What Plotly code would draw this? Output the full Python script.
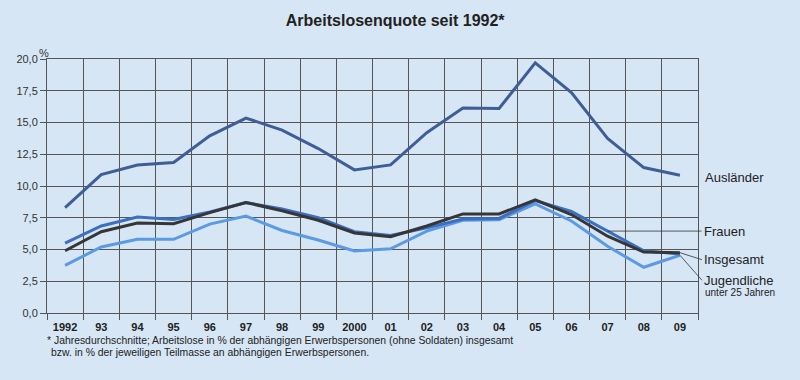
import plotly.graph_objects as go

years = ["1992", "93", "94", "95", "96", "97", "98", "99", "2000", "01",
         "02", "03", "04", "05", "06", "07", "08", "09"]

auslaender = [8.3, 10.9, 11.65, 11.85, 13.95, 15.35, 14.4, 12.95, 11.27, 11.66,
              14.2, 16.15, 16.1, 19.7, 17.36, 13.75, 11.45, 10.84]
frauen = [5.5, 6.85, 7.55, 7.37, 7.95, 8.7, 8.2, 7.5, 6.4, 6.1,
          6.7, 7.4, 7.45, 8.85, 8.0, 6.45, 4.9, 4.65]
insgesamt = [4.9, 6.4, 7.08, 7.03, 7.9, 8.7, 8.05, 7.3, 6.3, 6.0,
             6.85, 7.8, 7.8, 8.9, 7.75, 6.05, 4.8, 4.75]
jugendliche = [3.75, 5.2, 5.8, 5.8, 7.0, 7.63, 6.5, 5.75, 4.88, 5.05,
               6.45, 7.3, 7.35, 8.6, 7.25, 5.25, 3.6, 4.55]

series = [
    ("Jugendliche", jugendliche, "#5c9be3"),
    ("Frauen", frauen, "#3d6fc0"),
    ("Insgesamt", insgesamt, "#363636"),
    ("Ausländer", auslaender, "#3f5e96"),
]

BG = "#d6e6f5"
GRID = "#555555"
FONT = "Liberation Sans, Arial, sans-serif"

fig = go.Figure()
for name, vals, col in series:
    fig.add_trace(go.Scatter(x=years, y=vals, mode="lines", name=name,
                             line=dict(color=col, width=3), hoverinfo="skip"))

fig.update_layout(
    width=800, height=380, autosize=False,
    paper_bgcolor=BG, plot_bgcolor=BG,
    margin=dict(l=47, r=102, t=59, b=67),
    showlegend=False,
    separators=",.",
    font=dict(family=FONT, color="#222222"),
    title=dict(text="Arbeitslosenquote seit 1992*", xref="container", yref="container",
               x=0.494, xanchor="center", y=1 - 20 / 380, yanchor="middle",
               font=dict(size=16, weight="bold", color="#222222", family=FONT)),
)

fig.update_xaxes(type="category", categoryorder="array", categoryarray=years,
                 range=[-0.5, len(years) - 0.5], tickson="boundaries",
                 showgrid=True, gridcolor=GRID, gridwidth=1,
                 ticks="outside", ticklen=6, tickcolor=GRID, tickwidth=1,
                 showline=True, linecolor=GRID, linewidth=1, mirror=True,
                 zeroline=False, ticklabelstandoff=4,
                 tickfont=dict(size=11, weight="bold", color="#222222", family=FONT))
fig.update_yaxes(range=[0, 20], tick0=0, dtick=2.5, tickformat=".1f",
                 showgrid=True, gridcolor=GRID, gridwidth=1,
                 ticks="outside", ticklen=6, tickcolor=GRID, tickwidth=1,
                 showline=True, linecolor=GRID, linewidth=1, mirror=True,
                 zeroline=False,
                 tickfont=dict(size=11, color="#333333", family=FONT))

last = len(years) - 1
lab_font = dict(size=13, color="#222222", family=FONT)

# percent sign
fig.add_annotation(text="%", xref="paper", yref="paper", x=-0.0149, y=1.056,
                   showarrow=False, font=dict(size=11, color="#333333", family=FONT))

# series labels
fig.add_annotation(text="Ausländer", x=last, y=auslaender[-1], xanchor="left",
                   yanchor="middle", xshift=23, yshift=-2, showarrow=False, font=lab_font)

fig.add_annotation(text="Frauen", x=15, y=frauen[15], xanchor="left", yanchor="middle",
                   showarrow=True, arrowhead=0, arrowwidth=0.8, arrowcolor="#333333",
                   ax=94, ay=0, font=lab_font)
fig.add_annotation(text="Insgesamt", x=last, y=insgesamt[-1], xanchor="left",
                   yanchor="middle", showarrow=True, arrowhead=0, arrowwidth=0.8,
                   arrowcolor="#333333", ax=22, ay=7, font=lab_font)
fig.add_annotation(text="Jugendliche", x=last, y=jugendliche[-1], xanchor="left",
                   yanchor="middle", showarrow=True, arrowhead=0, arrowwidth=0.8,
                   arrowcolor="#333333", ax=22, ay=25, font=lab_font)
fig.add_annotation(text="unter 25 Jahren", x=last, y=jugendliche[-1], xanchor="left",
                   yanchor="middle", xshift=23, yshift=-37, showarrow=False,
                   font=dict(size=10, color="#222222", family=FONT))

# footnote
foot_font = dict(size=10.4, color="#222222", family=FONT)
fig.add_annotation(text="* Jahresdurchschnitte; Arbeitslose in % der abhängigen Erwerbspersonen (ohne Soldaten) insgesamt",
                   xref="paper", yref="paper", x=-0.003, y=-0.109, xanchor="left",
                   yanchor="middle", showarrow=False, font=foot_font)
fig.add_annotation(text="bzw. in % der jeweiligen Teilmasse an abhängigen Erwerbspersonen.",
                   xref="paper", yref="paper", x=0.0035, y=-0.156, xanchor="left",
                   yanchor="middle", showarrow=False, font=foot_font)

fig.write_html("out.html", config={"displayModeBar": False},
               post_script="document.body.style.margin='0';")
